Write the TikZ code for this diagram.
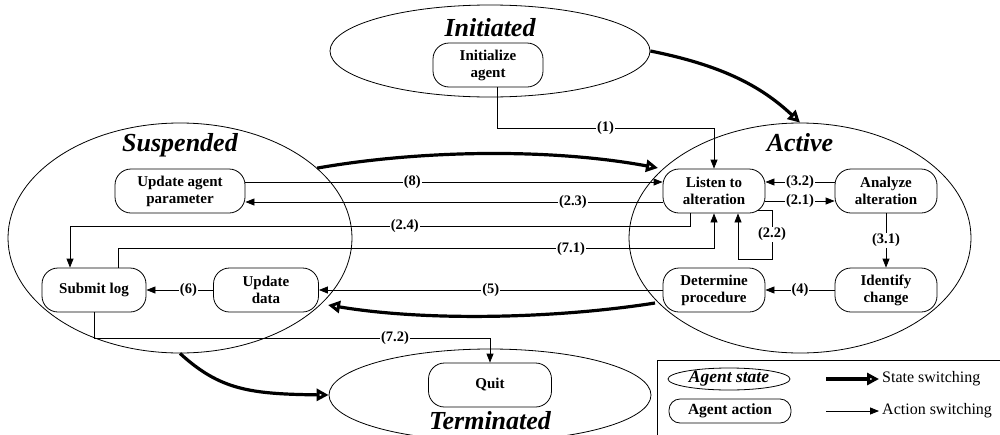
\documentclass[tikz,border=0pt]{standalone}
\usepackage{fontspec}
\setmainfont{Liberation Serif}
\usetikzlibrary{shapes.geometric,arrows.meta}
\begin{document}
\begin{tikzpicture}[x=1pt,y=-1pt,
  state/.style={draw,ellipse,line width=0.8pt,inner sep=0pt},
  statename/.style={font=\fontsize{26}{28}\selectfont\bfseries\itshape,anchor=base,inner sep=0pt},
  action/.style={draw,rounded corners=16pt,line width=0.8pt,minimum height=44pt,align=center,inner sep=0pt,font=\fontsize{15}{17}\selectfont\bfseries},
  act/.style={line width=0.8pt,-{Triangle[length=9pt,width=7pt]}},
  sw/.style={line width=3.2pt,-{Triangle[open,length=12pt,width=12pt]}},
  lbl/.style={fill=white,inner sep=1pt,font=\fontsize{14.5}{15}\selectfont\bfseries},
]
\useasboundingbox (0,0) rectangle (1000,434);

% agent states
\node[state,minimum width=320pt,minimum height=92pt] (init) at (490,51) {};
\node[state,minimum width=342pt,minimum height=230pt] (active) at (800,238) {};
\node[state,minimum width=344pt,minimum height=230pt] (susp) at (180,238) {};
\node[state,minimum width=322pt,minimum height=92pt] (term) at (490,395) {};

\node[statename] (initT) at (490,36) {Initiated};
\node[statename] (activeT) at (800,151) {Active};
\node[statename] (suspT) at (180,151) {Suspended};
\node[statename] (termT) at (490,429) {Terminated};

% agent actions
\node[action,minimum width=110pt] (initA) at (488,65) {Initialize\\agent};
\node[action,minimum width=102pt] (listen) at (714,191) {Listen to\\alteration};
\node[action,minimum width=102pt] (analyze) at (886,191) {Analyze\\alteration};
\node[action,minimum width=102pt] (determine) at (714,290) {Determine\\procedure};
\node[action,minimum width=102pt] (identify) at (886,290) {Identify\\change};
\node[action,minimum width=130pt] (updparam) at (180,191) {Update agent\\parameter};
\node[action,minimum width=104pt] (submit) at (94,290) {Submit log};
\node[action,minimum width=105pt] (upddata) at (266,290) {Update\\data};
\node[action,minimum width=123pt] (quit) at (490,385) {Quit};

% action switching
\draw[act] ([xshift=9pt]initA.south) -- ++(0,41) -| node[lbl,pos=0.25]{(1)} (listen.north);
\draw[act] ([yshift=9pt]updparam.east) -- node[lbl,pos=0.4]{(8)} ([yshift=9pt]listen.west);
\draw[act] ([yshift=-11pt]listen.west) -- node[lbl,pos=0.215]{(2.3)} ([yshift=-11pt]updparam.east);
\draw[act] ([xshift=-24pt]listen.south) -- ++(0,13) -| node[lbl,pos=0.23]{(2.4)} ([xshift=-24pt]submit.north);
\draw[act] ([xshift=24pt]submit.north) -- ++(0,-19) -| node[lbl,pos=0.38]{(7.1)} (listen.south);
\coordinate (loop22) at (772,259);
\draw[act] ([xshift=-7pt,yshift=-19pt]listen.east) -| node[lbl,pos=0.75]{(2.2)} (loop22) -| ([xshift=24pt]listen.south);
\draw[act] ([yshift=9pt]analyze.west) -- node[lbl]{(3.2)} ([yshift=9pt]listen.east);
\draw[act] ([yshift=-10pt]listen.east) -- node[lbl]{(2.1)} ([yshift=-10pt]analyze.west);
\draw[act] (analyze.south) -- node[lbl]{(3.1)} (identify.north);
\draw[act] (identify.west) -- node[lbl]{(4)} (determine.east);
\draw[act] (determine.west) -- node[lbl]{(5)} (upddata.east);
\draw[act] (upddata.west) -- node[lbl,pos=0.37]{(6)} (submit.east);
\draw[act] (submit.south) -- ++(0,26) -| node[lbl,pos=0.38]{(7.2)} (quit.north);

% state switching
\coordinate (swB) at (658,168);
\coordinate (swC1) at (655,303);
\coordinate (swC2) at (328,305);
\draw[sw] (init.east) .. controls (720,65) and (760,85) .. (active.north);
\draw[sw] (susp.27) .. controls (420,150) and (550,148) .. (swB);
\draw[sw] (swC1) .. controls (560,318) and (430,322) .. (swC2);
\draw[sw] (susp.south) .. controls (220,390) and (250,394) .. (term.west);

% legend
\draw[line width=0.8pt] (657,445) -- (657,360) -- (1010,360);
\node[draw,ellipse,line width=0.8pt,minimum width=122pt,minimum height=22pt,inner sep=0pt,font=\fontsize{17.5}{17.5}\selectfont\bfseries\itshape] (lgS) at (729,379) {Agent state};
\node[draw,rounded corners=11pt,line width=0.8pt,minimum width=122pt,minimum height=24pt,inner sep=0pt,font=\fontsize{15.5}{15.5}\selectfont\bfseries] (lgA) at (730,411) {Agent action};
\coordinate (lgS1) at (826,379);
\coordinate (lgS2) at (879,379);
\coordinate (lgA1) at (826,411);
\coordinate (lgA2) at (879,411);
\draw[sw] (lgS1) -- (lgS2);
\draw[act] (lgA1) -- (lgA2);
\node[anchor=west,inner sep=0pt,font=\fontsize{16}{16}\selectfont] (lgST) at (882,379) {State switching};
\node[anchor=west,inner sep=0pt,font=\fontsize{16}{16}\selectfont] (lgAT) at (882,411) {Action switching};
\end{tikzpicture}
\end{document}
